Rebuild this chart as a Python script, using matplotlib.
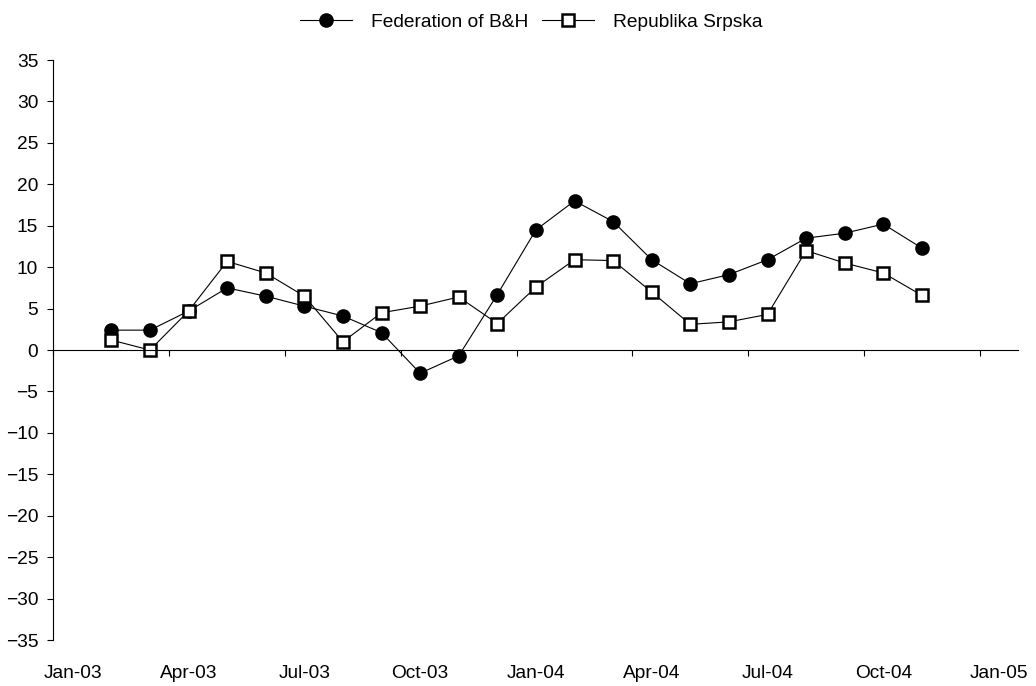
import numpy as np
import matplotlib.pyplot as plt

plt.rcParams['font.family'] = ['Liberation Sans', 'DejaVu Sans']

# monthly values, Feb-03 .. Nov-04
months = ['Feb-03', 'Mar-03', 'Apr-03', 'May-03', 'Jun-03', 'Jul-03', 'Aug-03',
          'Sep-03', 'Oct-03', 'Nov-03', 'Dec-03', 'Jan-04', 'Feb-04', 'Mar-04',
          'Apr-04', 'May-04', 'Jun-04', 'Jul-04', 'Aug-04', 'Sep-04', 'Oct-04',
          'Nov-04']
fbh = [2.4, 2.4, 4.7, 7.5, 6.5, 5.3, 4.1, 2.1, -2.8, -0.7, 6.7,
       14.5, 18.0, 15.5, 10.9, 8.0, 9.1, 10.9, 13.5, 14.1, 15.2, 12.3]
rs = [1.2, 0.0, 4.7, 10.7, 9.3, 6.5, 1.0, 4.5, 5.3, 6.4, 3.2,
      7.6, 10.9, 10.8, 7.0, 3.1, 3.4, 4.3, 12.0, 10.5, 9.3, 6.6]
tick_labels = ['Jan-03', 'Apr-03', 'Jul-03', 'Oct-03', 'Jan-04',
               'Apr-04', 'Jul-04', 'Oct-04', 'Jan-05']

# month slots counted from Jan-03, points sit in the middle of their slot
x = np.arange(1, len(months) + 1) + 0.5

fs = 13.8

fig = plt.figure(figsize=(10.36, 6.86), dpi=100)
ax = fig.add_axes([0.0516, 0.067, 0.9314, 0.8455])

ax.plot(x, fbh, color='black', lw=0.8, marker='o', ms=9.5,
        mfc='black', mec='black', label='Federation of B&H')
ax.plot(x, rs, color='black', lw=0.8, marker='s', ms=8.3,
        mfc='white', mec='black', mew=1.8, label='Republika Srpska')

ax.set_xlim(0, 25)
ax.set_ylim(-35, 35)
ax.set_yticks(np.arange(-35, 36, 5))
ax.tick_params(axis='y', direction='out', length=4, width=0.8,
               labelsize=fs, pad=7)

for s in ['top', 'right']:
    ax.spines[s].set_visible(False)
ax.spines['left'].set_linewidth(0.8)
ax.spines['bottom'].set_position(('data', 0))
ax.spines['bottom'].set_linewidth(0.8)

ax.set_xticks(np.arange(0, 25, 3))
ax.tick_params(axis='x', direction='out', length=4, width=0.8, labelbottom=False)

sec = ax.secondary_xaxis('bottom')
sec.set_xticks(np.arange(0, 25, 3) + 0.5)
sec.set_xticklabels(tick_labels)
sec.tick_params(length=0, labelsize=fs, pad=18)
sec.spines['bottom'].set_visible(False)

fig.legend(loc='upper center', bbox_to_anchor=(0.513, 1.0), ncol=2,
           frameon=False, fontsize=fs, handlelength=2.7, columnspacing=0.7,
           handletextpad=1.0, borderaxespad=0.3)

fig.savefig('out.png', dpi=100)
